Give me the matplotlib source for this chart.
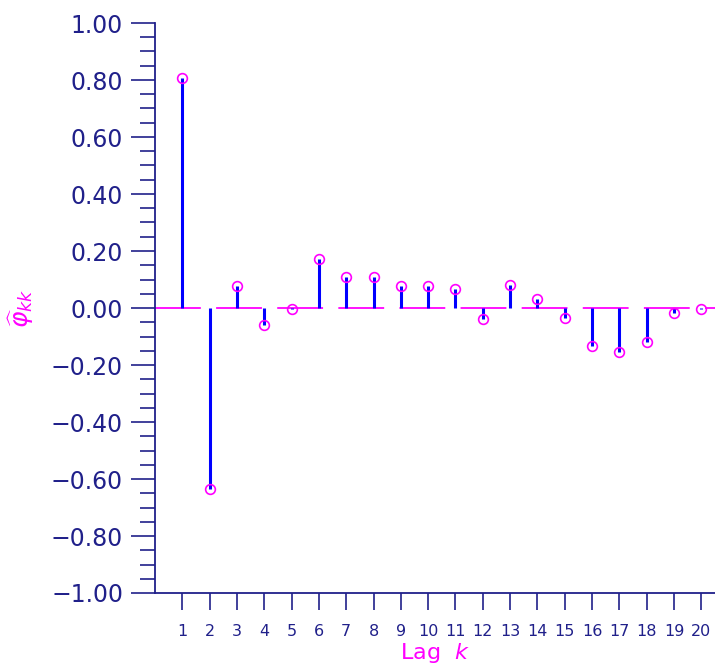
import matplotlib
matplotlib.use('Agg')
import matplotlib.pyplot as plt
import numpy as np

plt.rcParams['lines.scale_dashes'] = False

# partial autocorrelation values
lags = np.arange(1, 21)
pacf = [0.807, -0.635, 0.077, -0.060, -0.002, 0.172, 0.109, 0.109, 0.078, 0.078,
        0.067, -0.039, 0.080, 0.033, -0.035, -0.132, -0.156, -0.119, -0.016, -0.005]

yticks = [-1.0, -0.8, -0.6, -0.4, -0.2, 0.0, 0.2, 0.4, 0.6, 0.8, 1.0]
ytick_labels = ['\u2212%.2f' % abs(v) if v < 0 else '%.2f' % v for v in yticks]

navy = '#20208a'
mag = '#ff00ff'

fig = plt.figure(figsize=(7.15, 6.67), dpi=100)
ax = fig.add_axes([155/715, 1 - 593/667, 1 - 155/715, (593 - 23)/667])

# dashed zero line
ax.plot([0, 20.5], [0, 0], color=mag, lw=1.3, dashes=(33, 11), zorder=1)

# spikes
ax.vlines(lags, 0, pacf, color='#0000ff', lw=2.2, zorder=2)
ax.plot(lags, pacf, 'o', mfc='none', mec=mag, ms=7, mew=1.2, zorder=3)

ax.set_xlim(0, 20.5)
ax.set_ylim(-1, 1)

for s in ['top', 'right']:
    ax.spines[s].set_visible(False)
for s in ['left', 'bottom']:
    ax.spines[s].set_color(navy)
    ax.spines[s].set_linewidth(1.3)

ax.set_yticks(yticks)
ax.set_yticklabels(ytick_labels)
ax.set_yticks(np.arange(-1, 1.001, 0.05), minor=True)
ax.tick_params(axis='y', which='major', length=17, width=1.2, color=navy,
               labelcolor=navy, labelsize=17, pad=6)
ax.tick_params(axis='y', which='minor', length=11, width=1.2, color=navy)

ax.set_xticks(lags)
ax.set_xticklabels([str(k) for k in lags])
ax.tick_params(axis='x', which='major', length=12, width=1.2, color=navy,
               labelcolor=navy, labelsize=11.5, pad=10)
ax.tick_params(axis='x', which='minor', length=0)

ax.set_xlabel('Lag  $k$', color=mag, fontsize=16, labelpad=2)
ax.text(-4.9, 0.0, r'$\widehat{\varphi}_{kk}$', color=mag, fontsize=18,
        rotation=90, ha='center', va='center')

fig.savefig('out.png', dpi=100)
